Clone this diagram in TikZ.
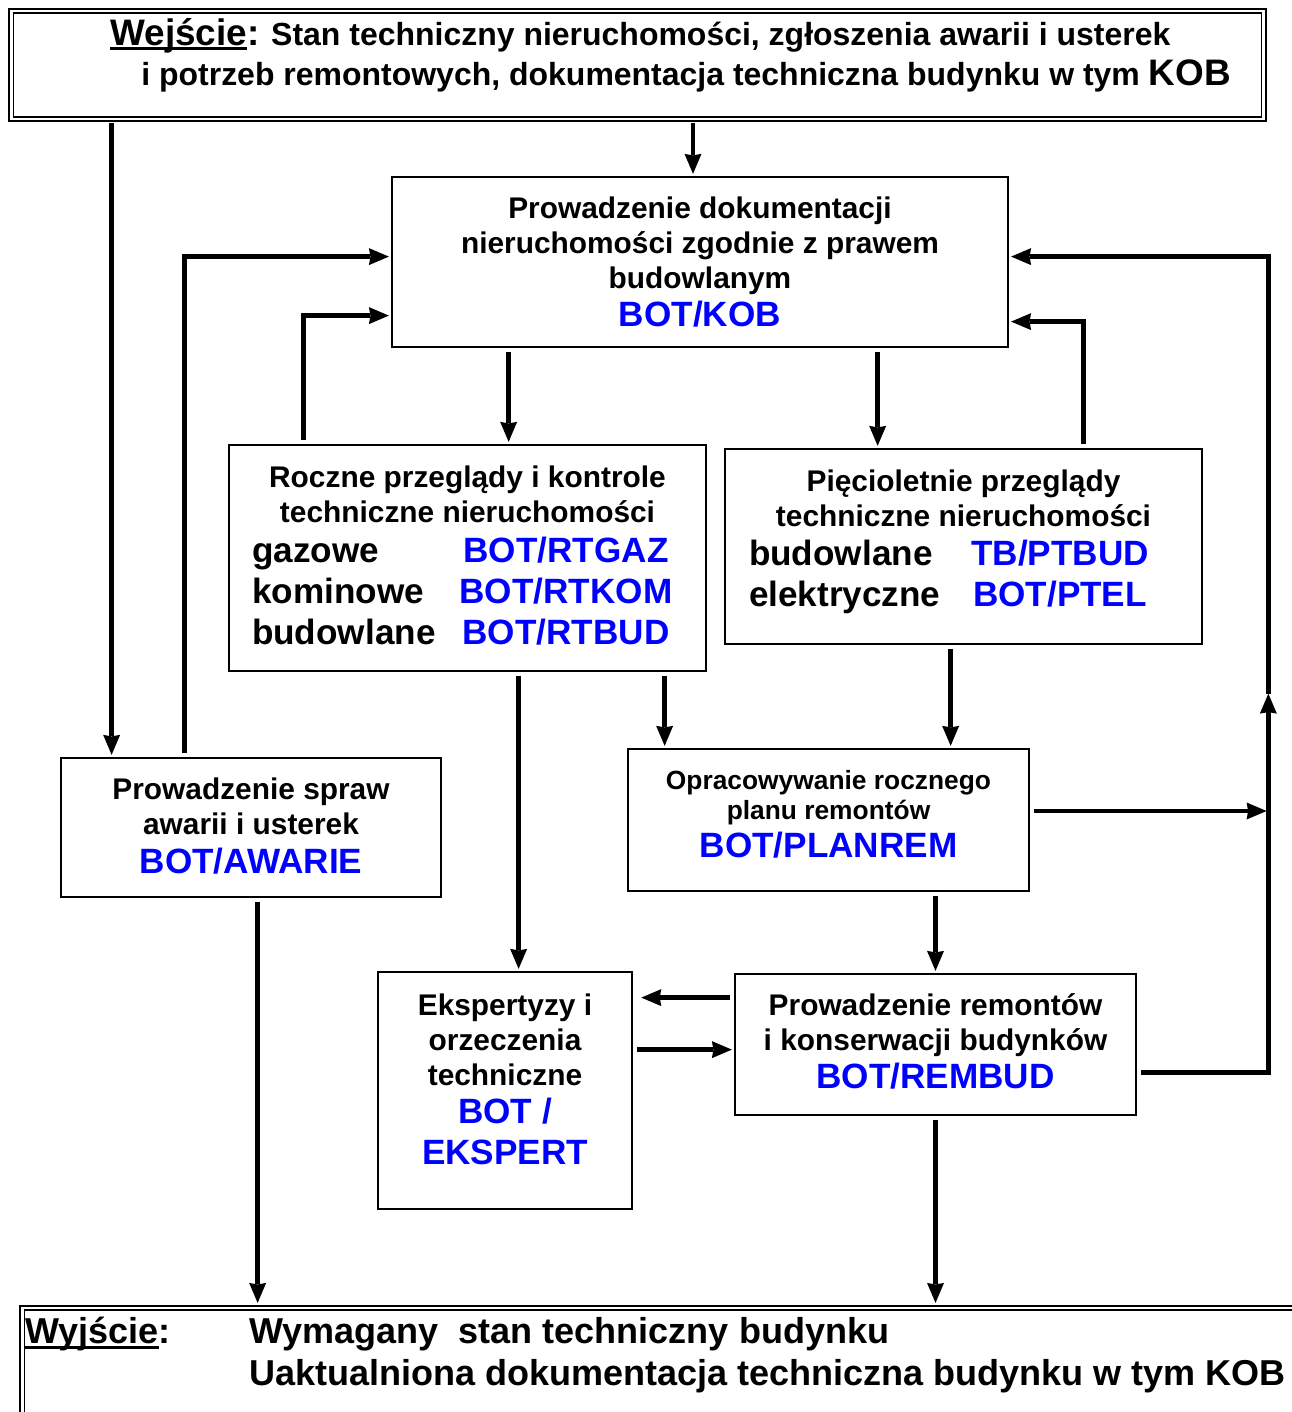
\documentclass[tikz,border=0pt]{standalone}
\usepackage{fontspec}
\setmainfont{Liberation Sans}
\usetikzlibrary{arrows.meta,calc,positioning}

\newcommand{\botlabel}[1]{\textcolor{blue}{\fontsize{20}{20}\selectfont #1}}
\newcommand{\bigtxt}{\fontsize{20}{20}\selectfont}
\newcommand{\bottompad}[1]{\rule[-#1]{0pt}{#1}}
\newlength{\ulwidth}
\newcommand{\ulabel}[1]{\settowidth{\ulwidth}{#1}\rlap{\rule[-0.13em]{\ulwidth}{0.07em}}#1}

\begin{document}
\begin{tikzpicture}[
    x=0.02cm, y=-0.02cm,
    >={Stealth[length=0.4cm, width=0.34cm, inset=0.03cm, line width=0pt]},
    font=\bfseries,
    % Styles
    procBox/.style={draw, line width=1.6pt, inner sep=0pt, align=center, font=\bfseries\fontsize{17}{20}\selectfont},
    frameBox/.style={draw, double, line width=0.8pt, double distance=1.6pt, inner sep=0pt},
    frameText/.style={inner sep=0pt, align=left, anchor=west},
    flowArrow/.style={->, line width=2.7pt, shorten <=2pt, shorten >=1pt}
]
\useasboundingbox (0,0) rectangle (1291,1412);

% ================= WEJSCIE / WYJSCIE =================
\node[frameBox, minimum width=25.06cm, minimum height=2.16cm] (wejscie) at (637.5,65) {};
\node[frameText, font=\bfseries\fontsize{18.2}{22.8}\selectfont] (wejscieTxt) at (110,55)
  {{\fontsize{21}{22.8}\selectfont\ulabel{Wejście}:} Stan techniczny nieruchomości, zgłoszenia awarii i usterek\\
   \hspace*{0.62cm}i potrzeb remontowych, dokumentacja techniczna budynku w tym {\fontsize{21}{22.8}\selectfont KOB}};

\node[frameBox, minimum width=26.36cm, minimum height=3.24cm] (wyjscie) at (681,1389) {};
\node[frameText, font=\bfseries\fontsize{20.5}{23.5}\selectfont] (wyjscieTxt) at (25,1355)
  {\makebox[4.48cm][l]{\ulabel{Wyjście}:}Wymagany\ \ stan techniczny budynku\\
   \hspace*{4.48cm}Uaktualniona dokumentacja techniczna budynku w tym KOB};

% ================= PROCESY =================
\node[procBox, minimum width=12.32cm, minimum height=3.4cm] (kob) at (700,262)
  {Prowadzenie dokumentacji\\nieruchomości zgodnie z prawem\\budowlanym\\[1.5pt]\botlabel{BOT/KOB}};

\node[procBox, minimum width=9.54cm, minimum height=4.52cm] (roczne) at (467.5,558)
  {Roczne przeglądy i kontrole\\techniczne nieruchomości\\[3pt]
   \makebox[8.62cm][l]{\makebox[4.12cm][l]{\bigtxt gazowe}\makebox[4.32cm][c]{\botlabel{BOT/RTGAZ}}}\\[3pt]
   \makebox[8.62cm][l]{\makebox[4.12cm][l]{\bigtxt kominowe}\makebox[4.32cm][c]{\botlabel{BOT/RTKOM}}}\\[3.5pt]
   \makebox[8.62cm][l]{\makebox[4.12cm][l]{\bigtxt budowlane}\makebox[4.32cm][c]{\botlabel{BOT/RTBUD}}}\bottompad{3.5pt}};

\node[procBox, minimum width=9.54cm, minimum height=3.9cm] (piec) at (963.5,546.5)
  {Pięcioletnie przeglądy\\techniczne nieruchomości\\[2pt]
   \makebox[8.58cm][l]{\makebox[4.22cm][l]{\bigtxt budowlane}\makebox[4.0cm][c]{\botlabel{TB/PTBUD}}}\\[3.5pt]
   \makebox[8.58cm][l]{\makebox[4.22cm][l]{\bigtxt elektryczne}\makebox[4.0cm][c]{\botlabel{BOT/PTEL}}}\bottompad{9.5pt}};

\node[procBox, minimum width=7.6cm, minimum height=2.78cm] (awarie) at (251,827.5)
  {Prowadzenie spraw\\awarii i usterek\\[2pt]\botlabel{BOT/AWARIE}\bottompad{2pt}};

\node[procBox, minimum width=8.02cm, minimum height=2.84cm, font=\bfseries\fontsize{15}{17}\selectfont] (planrem) at (828.5,820)
  {Opracowywanie rocznego\\planu remontów\\[3.5pt]\botlabel{BOT/PLANREM}\bottompad{6.8pt}};

\node[procBox, minimum width=5.08cm, minimum height=4.74cm] (ekspert) at (505,1090.5)
  {Ekspertyzy i\\orzeczenia\\techniczne\\[1.5pt]\botlabel{BOT /}\\[3pt]\botlabel{EKSPERT}\bottompad{13pt}};

\node[procBox, minimum width=8.02cm, minimum height=2.82cm] (rembud) at (935.5,1044.5)
  {Prowadzenie remontów\\i konserwacji budynków\\[2pt]\botlabel{BOT/REMBUD}\bottompad{4pt}};

% ================= ARROWS =================
% wejscie -> kob, wejscie -> awarie
\coordinate (kobTop) at ($(kob.north)+(-7,0)$);
\draw[flowArrow] (wejscie.south -| kobTop) -- (kobTop);
\coordinate (awTopL) at ($(awarie.north west)+(52,0)$);
\draw[flowArrow] (wejscie.south -| awTopL) -- (awTopL);

% awarie, roczne -> kob (lewa strona)
\coordinate (awTopR) at ($(awarie.north west)+(125,0)$);
\coordinate (kobInL1) at ($(kob.north west)+(0,81)$);
\draw[flowArrow] (awTopR) |- (kobInL1);
\coordinate (rcTopL) at ($(roczne.north west)+(76,0)$);
\coordinate (kobInL2) at ($(kob.north west)+(0,140)$);
\draw[flowArrow] (rcTopL) |- (kobInL2);

% kob -> roczne, kob -> piec
\coordinate (rcTopR) at ($(roczne.north west)+(281,0)$);
\draw[flowArrow] (kob.south -| rcTopR) -- (rcTopR);
\coordinate (pcTopL) at ($(piec.north west)+(154,0)$);
\draw[flowArrow] (kob.south -| pcTopL) -- (pcTopL);

% piec -> kob (prawa strona)
\coordinate (pcTopR) at ($(piec.north west)+(360,0)$);
\coordinate (kobInR2) at ($(kob.north east)+(0,146)$);
\draw[flowArrow] (pcTopR) |- (kobInR2);

% rembud -> szyna -> kob
\coordinate (kobInR1) at ($(kob.north east)+(0,81)$);
\coordinate (rail) at ($(kobInR1)+(259,0)$);
\coordinate (railMid) at ($(rail)+(0,437)$);
\coordinate (rbOut) at ($(rembud.east)+(0,28)$);
\draw[flowArrow, shorten >=0pt] (rbOut) -| (railMid);
\draw[flowArrow, shorten <=0pt] (railMid) -- (rail) -- (kobInR1);

% planrem -> szyna
\coordinate (pmOut) at ($(planrem.east)+(0,-9)$);
\draw[flowArrow] (pmOut) -- (pmOut -| rail);

% roczne -> ekspert, roczne -> planrem, piec -> planrem
\coordinate (ekTop) at ($(ekspert.north west)+(142,0)$);
\draw[flowArrow] (roczne.south -| ekTop) -- (ekTop);
\coordinate (pmTopL) at ($(planrem.north west)+(38,0)$);
\draw[flowArrow] (roczne.south -| pmTopL) -- (pmTopL);
\coordinate (pmTopR) at ($(planrem.north west)+(324,0)$);
\draw[flowArrow] (piec.south -| pmTopR) -- (pmTopR);

% planrem -> rembud
\draw[flowArrow] (planrem.south -| rembud.north) -- (rembud.north);

% rembud <-> ekspert
\coordinate (rbInL) at ($(rembud.north west)+(0,25)$);
\draw[flowArrow, shorten >=4.5pt] (rbInL) -- (rbInL -| ekspert.east);
\coordinate (ekOut) at ($(ekspert.north east)+(0,79)$);
\draw[flowArrow] (ekOut) -- (ekOut -| rembud.west);

% awarie, rembud -> wyjscie
\coordinate (awBot) at ($(awarie.south west)+(198,0)$);
\draw[flowArrow, shorten >=2.5pt] (awBot) -- (awBot |- wyjscie.north);
\draw[flowArrow, shorten >=2.5pt] (rembud.south) -- (rembud.south |- wyjscie.north);

\end{tikzpicture}
\end{document}
